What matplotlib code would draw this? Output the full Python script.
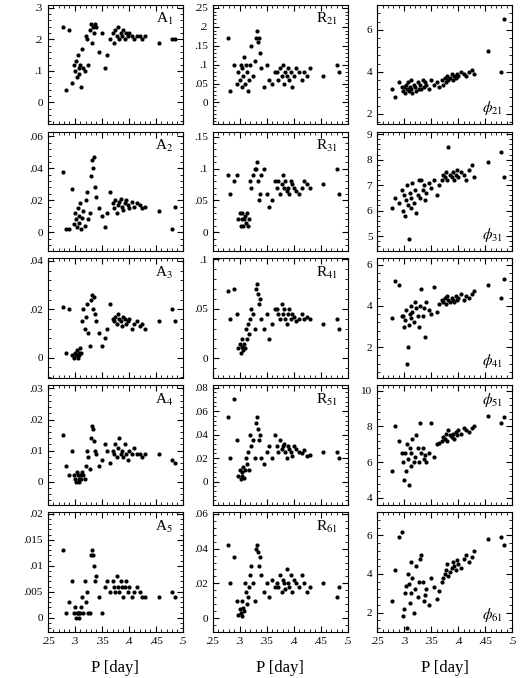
import numpy as np
import matplotlib
matplotlib.use("Agg")
import matplotlib.pyplot as plt
from matplotlib.ticker import FuncFormatter, AutoMinorLocator

plt.rcParams['font.family'] = ['Liberation Serif', 'DejaVu Serif']
plt.rcParams['mathtext.fontset'] = 'stix'

# periods (days)
P = [0.278, 0.283,
     0.290, 0.295,
     0.298, 0.300, 0.302, 0.304, 0.305, 0.307, 0.308, 0.310, 0.312, 0.313, 0.315, 0.318, 0.320, 0.322, 0.325, 0.328,
     0.330, 0.332, 0.334, 0.336, 0.338, 0.340, 0.345, 0.350, 0.355, 0.360, 0.365,
     0.370, 0.372, 0.375, 0.378, 0.380, 0.382, 0.385, 0.388, 0.390, 0.392, 0.395, 0.398, 0.400, 0.405, 0.410, 0.415, 0.420, 0.425, 0.430,
     0.455, 0.480, 0.485]

A1 = [.24, .04, .23, .06,
      .12, .10, .13, .08, .15, .11, .09, .12, .05, .17, .11, .10, .21, .20, .12, .23,
      .25, .19, .24, .22, .25, .24, .16, .22, .11, .15, .20,
      .22, .19, .23, .21, .24, .20, .22, .21, .23, .20, .22, .21, .22, .21, .20, .21, .21, .20, .21,
      .19, .20, .20]
A2 = [.038, .002, .002, .027,
      .005, .012, .008, .003, .015, .010, .006, .018, .002, .009, .013, .004, .020, .025, .008, .012,
      .035, .045, .040, .047, .028, .022, .015, .010, .003, .012, .025,
      .018, .015, .020, .012, .017, .019, .021, .016, .014, .018, .020, .017, .015, .019, .016, .018, .017, .015, .016,
      .013, .002, .016]
A3 = [.021, .002, .020, .001,
      .000, .002, .001, .003, .000, .002, .001, .004, .002, .015, .020, .012, .017, .022, .010, .005,
      .024, .026, .020, .025, .018, .015, .010, .005, .008, .012, .022,
      .016, .015, .017, .014, .018, .016, .015, .013, .017, .016, .014, .015, .016, .012, .014, .015, .013, .014, .012,
      .015, .020, .015]
A4 = [.015, .005, .002, .010,
      .002, .001, .000, .003, .002, .001, .000, .002, .001, .003, .002, .001, .005, .010, .008, .004,
      .014, .018, .017, .013, .010, .009, .005, .007, .012, .010, .006,
      .010, .009, .012, .008, .011, .014, .009, .010, .008, .012, .009, .007, .010, .009, .011, .009, .009, .008, .009,
      .009, .007, .006]
A5 = [.013, .001, .003, .007,
      .001, .002, .000, .001, .001, .000, .001, .001, .002, .004, .001, .007, .003, .005, .001, .001,
      .012, .013, .012, .010, .007, .008, .004, .001, .006, .007, .005,
      .007, .006, .005, .008, .006, .005, .007, .006, .004, .006, .007, .005, .006, .004, .005, .006, .005, .004, .004,
      .004, .005, .004]
R21 = [.17, .03, .10, .05,
       .08, .06, .10, .04, .09, .07, .12, .05, .10, .08, .03, .06, .10, .15, .07, .11,
       .17, .19, .16, .17, .13, .09, .04, .10, .06, .05, .08,
       .08, .06, .09, .07, .10, .05, .08, .07, .09, .06, .08, .04, .07, .09, .08, .06, .08, .07, .09,
       .07, .10, .08]
R31 = [.09, .06, .08, .09,
       .02, .03, .01, .02, .03, .01, .02, .025, .015, .03, .01, .02, .08, .07, .09, .10,
       .10, .11, .08, .05, .06, .09, .10, .06, .04, .05, .08,
       .07, .08, .06, .075, .09, .07, .08, .065, .07, .06, .08, .075, .07, .065, .06, .07, .08, .075, .07,
       .075, .10, .06]
R41 = [.068, .040, .070, .045,
       .010, .015, .005, .020, .012, .008, .015, .010, .030, .020, .035, .025, .040, .050, .045, .030,
       .070, .075, .065, .055, .060, .040, .030, .045, .020, .035, .050,
       .050, .045, .040, .055, .045, .050, .040, .035, .045, .050, .040, .045, .042, .038, .040, .045, .040, .042, .040,
       .035, .040, .030]
R51 = [.055, .020, .070, .035,
       .005, .010, .002, .008, .005, .012, .003, .010, .020, .015, .025, .010, .040, .030, .035, .020,
       .050, .055, .045, .035, .040, .020, .015, .025, .030, .020, .040,
       .030, .025, .035, .028, .030, .032, .025, .020, .030, .028, .025, .022, .030, .028, .025, .024, .027, .022, .023,
       .025, .025, .020]
R61 = [.042, .020, .035, .010,
       .002, .005, .003, .010, .001, .006, .004, .020, .015, .008, .012, .018, .025, .030, .020, .010,
       .040, .042, .038, .030, .035, .025, .015, .020, .012, .022, .018,
       .020, .018, .025, .015, .022, .020, .017, .028, .020, .018, .025, .015, .022, .020, .018, .025, .020, .015, .018,
       .020, .012, .018]
PHI21 = [3.2, 2.8, 3.5, 3.3,
         3.1, 3.3, 3.0, 3.4, 3.2, 3.5, 3.1, 3.3, 3.6, 3.2, 3.0, 3.4, 3.3, 3.1, 3.5, 3.2,
         3.4, 3.2, 3.6, 3.3, 3.5, 3.4, 3.2, 3.6, 3.4, 3.5, 3.3,
         3.6, 3.4, 3.7, 3.5, 3.8, 3.6, 3.7, 3.9, 3.6, 3.8, 3.7, 3.9, 3.8, 4.0, 3.9, 3.8, 4.0, 4.1, 3.9,
         5.0, 4.0, 6.5]
PHI31 = [6.1, 6.5, 6.3, 6.8,
         6.0, 6.6, 5.8, 6.4, 7.0, 6.2, 4.9, 6.7, 6.5, 6.1, 7.1, 6.3, 6.8, 5.9, 6.6, 7.2,
         6.5, 7.2, 6.8, 7.0, 6.4, 6.7, 7.1, 6.9, 7.2, 6.6, 7.0,
         7.2, 7.4, 7.3, 7.5, 7.2, 8.5, 7.4, 7.3, 7.5, 7.2, 7.4, 7.6, 7.3, 7.5, 7.4, 7.2, 7.6, 7.8, 7.3,
         7.9, 8.3, 7.3]
PHI41 = [3.4, 5.2, 5.0, 3.5,
         3.5, 3.0, 3.3, 3.8, 1.2, 2.0, 3.1, 3.6, 4.0, 3.4, 3.7, 3.2, 4.2, 3.9, 3.5, 3.0,
         4.0, 4.8, 3.5, 3.9, 2.5, 4.2, 3.8, 3.6, 4.9, 3.7, 4.1,
         4.3, 4.2, 4.4, 4.1, 4.5, 4.3, 4.2, 4.4, 4.3, 4.2, 4.5, 4.3, 4.4, 4.6, 4.3, 4.5, 4.4, 4.6, 4.7,
         5.0, 4.4, 5.3]
PHI51 = [5.5, 8.0, 7.2, 6.5,
         6.0, 5.0, 6.5, 5.5, 7.0, 6.2, 4.7, 6.8, 5.8, 6.5, 7.3, 6.0, 6.3, 7.5, 6.8, 6.0,
         8.2, 6.5, 6.8, 6.2, 6.4, 6.0, 6.5, 8.2, 6.3, 7.0, 7.1,
         7.2, 7.4, 7.3, 7.6, 7.2, 7.8, 7.5, 7.4, 7.6, 7.3, 7.7, 7.5, 7.8, 7.6, 7.9, 7.8, 7.7, 7.9, 8.0,
         8.6, 8.2, 8.5]
PHI61 = [2.6, 4.2, 5.9, 6.2,
         1.8, 2.2, 3.0, 3.4, 1.2, 4.0, 3.5, 2.5, 4.6, 3.0, 3.8, 2.0, 3.2, 4.4, 2.8, 3.6,
         4.8, 5.0, 3.6, 2.6, 2.9, 3.2, 2.4, 3.8, 3.3, 2.7, 3.1,
         3.6, 3.8, 4.0, 4.2, 4.5, 3.9, 4.1, 4.3, 4.6, 4.4, 4.2, 4.7, 4.5, 4.3, 4.8, 5.0, 4.6, 4.9, 5.2,
         5.8, 5.9, 5.5]

x_ticks = [.25, .3, .35, .4, .45, .5]

# (values, label, label position, ylim, yticks)
panels = [
    [(A1, r'A$_1$', 'ur', (-0.07, 0.31), [0, .1, .2, .3]),
     (R21, r'R$_{21}$', 'ur', (-0.058, 0.258), [0, .05, .1, .15, .2, .25]),
     (PHI21, r'$\phi_{21}$', 'lr', (1.5, 7.2), [2, 4, 6])],
    [(A2, r'A$_2$', 'ur', (-0.012, 0.063), [0, .02, .04, .06]),
     (R31, r'R$_{31}$', 'ur', (-0.03, 0.158), [0, .05, .1, .15]),
     (PHI31, r'$\phi_{31}$', 'lr', (4.4, 9.1), [5, 6, 7, 8, 9])],
    [(A3, r'A$_3$', 'ur', (-0.0085, 0.041), [0, .02, .04]),
     (R41, r'R$_{41}$', 'ur', (-0.02, 0.101), [0, .05, .1]),
     (PHI41, r'$\phi_{41}$', 'lr', (0.5, 6.3), [2, 4, 6])],
    [(A4, r'A$_4$', 'ur', (-0.0075, 0.031), [0, .01, .02, .03]),
     (R51, r'R$_{51}$', 'ur', (-0.02, 0.082), [0, .02, .04, .06, .08]),
     (PHI51, r'$\phi_{51}$', 'ur', (3.6, 10.3), [4, 6, 8, 10])],
    [(A5, r'A$_5$', 'ur', (-0.0027, 0.0203), [0, .005, .01, .015, .02]),
     (R61, r'R$_{61}$', 'ur', (-0.008, 0.061), [0, .02, .04, .06]),
     (PHI61, r'$\phi_{61}$', 'lr', (1.0, 7.2), [2, 4, 6])],
]


def short(v, pos):
    s = ('%g' % v)
    if s.startswith('0.'):
        s = s[1:]
    return s


fig, axes = plt.subplots(5, 3, figsize=(5.2, 6.78), dpi=100, sharex=True)
fig.subplots_adjust(left=0.092, right=0.985, top=0.993, bottom=0.068, wspace=0.22, hspace=0.06)

for r in range(5):
    for c in range(3):
        ax = axes[r, c]
        vals, lab, where, ylim, yt = panels[r][c]
        ax.scatter(P, vals, s=9, color='black', linewidths=0)
        ax.set_xlim(0.25, 0.5)
        ax.set_ylim(*ylim)
        ax.set_xticks(x_ticks)
        ax.set_yticks(yt)
        ax.xaxis.set_major_formatter(FuncFormatter(short))
        ax.yaxis.set_major_formatter(FuncFormatter(short))
        ax.xaxis.set_minor_locator(AutoMinorLocator(5))
        ax.yaxis.set_minor_locator(AutoMinorLocator(5))
        ax.tick_params(which='both', direction='in', top=True, right=True, labelsize=8)
        ax.tick_params(which='major', length=4)
        ax.tick_params(which='minor', length=2)
        if where == 'ur':
            ax.text(0.93, 0.88, lab, transform=ax.transAxes, ha='right', va='center', fontsize=11)
        else:
            ax.text(0.93, 0.14, lab, transform=ax.transAxes, ha='right', va='center', fontsize=11)

for c in range(3):
    axes[4, c].set_xlabel('P [day]', fontsize=12, labelpad=10)

fig.savefig('out.png', dpi=100)
